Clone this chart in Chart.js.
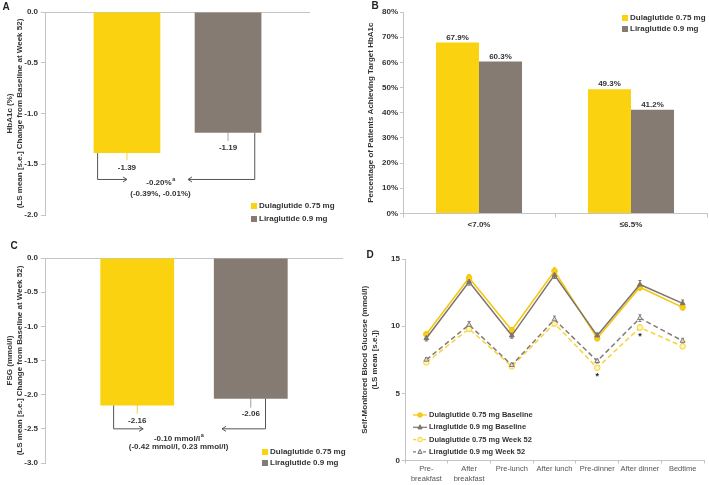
<!DOCTYPE html>
<html lang="en">
<head>
<meta charset="UTF-8">
<title>Dulaglutide 0.75 mg vs Liraglutide 0.9 mg</title>
<script src="https://cdn.jsdelivr.net/npm/chart.js"></script>
<style>
  body { margin: 0; background: #fff; }
  #wrap { position: relative; width: 709px; height: 485px; }
  #wrap canvas { position: absolute; }
</style>
</head>
<body>
<div id="wrap">
  <canvas id="chartA" width="350" height="240" style="left:0;top:0"></canvas>
  <canvas id="chartB" width="359" height="240" style="left:350px;top:0"></canvas>
  <canvas id="chartC" width="350" height="245" style="left:0;top:240px"></canvas>
  <canvas id="chartD" width="359" height="245" style="left:350px;top:240px"></canvas>
</div>
<script>
// ---- data ----
const treatments = ['Dulaglutide 0.75 mg', 'Liraglutide 0.9 mg'];

// A: HbA1c change from baseline at week 52
const hba1cChange = [-1.39, -1.19];
const hba1cSe = [0.07, 0.08];
const hba1cDiff = ['-0.20%', '(-0.39%, -0.01%)'];

// B: patients achieving target HbA1c
const targetLabels = ['<7.0%', '\u22646.5%'];
const targetDula = [67.9, 49.3];
const targetLira = [60.3, 41.2];

// C: FSG change from baseline at week 52
const fsgChange = [-2.16, -2.06];
const fsgSe = [0.12, 0.13];
const fsgDiff = ['-0.10 mmol/l', '(-0.42 mmol/l, 0.23 mmol/l)'];

// D: 8-point SMBG profile
const smbgTimes = [['Pre-', 'breakfast'], ['After', 'breakfast'], 'Pre-lunch', 'After lunch', 'Pre-dinner', 'After dinner', 'Bedtime'];
const smbgNames = ['Dulaglutide 0.75 mg Baseline', 'Liraglutide 0.9 mg Baseline', 'Dulaglutide 0.75 mg Week 52', 'Liraglutide 0.9 mg Week 52'];
const dulaBaseline = [9.4, 13.6, 9.7, 14.1, 9.1, 12.9, 11.4];
const liraBaseline = [9.1, 13.3, 9.3, 13.8, 9.3, 13.1, 11.7];
const dulaWeek52 = [7.3, 9.8, 7.0, 10.2, 6.9, 9.9, 8.5];
const liraWeek52 = [7.5, 10.1, 7.1, 10.5, 7.4, 10.6, 8.9];
const dulaBaselineSe = [0.2, 0.25, 0.2, 0.25, 0.2, 0.25, 0.2];
const liraBaselineSe = [0.2, 0.25, 0.2, 0.25, 0.2, 0.3, 0.25];
const dulaWeek52Se = [0.15, 0.2, 0.15, 0.2, 0.15, 0.2, 0.15];
const liraWeek52Se = [0.15, 0.25, 0.15, 0.25, 0.15, 0.25, 0.2];
const smbgSignificant = [false, false, false, false, true, true, false];

// ---- styling ----
const YELLOW = '#FAD20F';
const GRAY = '#867B72';
const AXIS = '#c4c4c4';
const TEXT = '#333';
const FAMILY = "'Liberation Sans', Arial, sans-serif";
const font = (size, weight) => (weight || 'bold') + ' ' + size + 'px ' + FAMILY;

Chart.defaults.font.family = FAMILY;
Chart.defaults.font.size = 8;
Chart.defaults.font.weight = 'bold';
Chart.defaults.color = TEXT;

function panelLetter(letter, x, y) {
  return {
    id: 'letter' + letter,
    afterDraw(chart) {
      const ctx = chart.ctx;
      ctx.save();
      ctx.font = font(10);
      ctx.fillStyle = '#222';
      ctx.textAlign = 'center';
      ctx.textBaseline = 'middle';
      ctx.fillText(letter, x, y);
      ctx.restore();
    }
  };
}

function squareLegend(x, y, dy) {
  return {
    id: 'squareLegend',
    afterDraw(chart) {
      const ctx = chart.ctx;
      ctx.save();
      ctx.font = font(8);
      ctx.textBaseline = 'middle';
      chart.data.datasets.forEach((ds, i) => {
        const yy = y + i * dy;
        ctx.fillStyle = ds.backgroundColor;
        ctx.fillRect(x, yy - 3, 6, 6);
        ctx.fillStyle = TEXT;
        ctx.fillText(ds.label, x + 8, yy);
      });
      ctx.restore();
    }
  };
}

// text with a superscript "a"
function textWithSup(ctx, text, cx, cy) {
  ctx.font = font(8);
  const w1 = ctx.measureText(text).width;
  ctx.font = font(5.5);
  const w2 = ctx.measureText('a').width;
  const left = cx - (w1 + w2) / 2;
  ctx.textAlign = 'left';
  ctx.font = font(8);
  ctx.fillText(text, left, cy);
  ctx.font = font(5.5);
  ctx.fillText('a', left + w1 + 0.5, cy - 3);
}

function arrowHead(ctx, x, y, dir) {
  ctx.beginPath();
  ctx.moveTo(x - dir * 4, y - 2.5);
  ctx.lineTo(x, y);
  ctx.lineTo(x - dir * 4, y + 2.5);
  ctx.stroke();
}

function changeNotes(se, diffText, cfg) {
  return {
    id: 'changeNotes',
    beforeDatasetsDraw(chart) {
      const {ctx, scales: {y}} = chart;
      ctx.save();
      chart.data.datasets.forEach((ds, i) => {
        const b = chart.getDatasetMeta(i).data[0];
        const v = ds.data[0];
        ctx.strokeStyle = i === 0 ? '#e9cf55' : '#a9a29b';
        ctx.lineWidth = 1;
        ctx.beginPath();
        ctx.moveTo(b.x, y.getPixelForValue(v + se[i]));
        ctx.lineTo(b.x, y.getPixelForValue(v - se[i]));
        ctx.stroke();
      });
      ctx.restore();
    },
    afterDatasetsDraw(chart) {
      const {ctx, scales: {y}} = chart;
      const bars = chart.data.datasets.map((ds, i) => chart.getDatasetMeta(i).data[0]);
      ctx.save();
      ctx.fillStyle = TEXT;
      ctx.font = font(8);
      ctx.textAlign = 'center';
      ctx.textBaseline = 'middle';
      chart.data.datasets.forEach((ds, i) => {
        ctx.fillText(ds.data[0].toFixed(2), bars[i].x, bars[i].y + 15);
      });

      // brackets with arrows between the two bars
      const ay = y.getPixelForValue(cfg.arrowAt);
      const [b0, b1] = bars;
      const x0 = b0.x + cfg.leftFrom * b0.width;
      const tip0 = b0.x + cfg.leftTip * b0.width;
      const x1 = b1.x + cfg.rightFrom * b1.width;
      const tip1 = b1.x + cfg.rightTip * b1.width;
      ctx.strokeStyle = '#555';
      ctx.lineWidth = 1;
      ctx.beginPath();
      ctx.moveTo(x0, b0.y);
      ctx.lineTo(x0, ay);
      ctx.lineTo(tip0, ay);
      ctx.moveTo(x1, b1.y);
      ctx.lineTo(x1, ay);
      ctx.lineTo(tip1, ay);
      ctx.stroke();
      arrowHead(ctx, tip0, ay, 1);
      arrowHead(ctx, tip1, ay, -1);

      const cx = (tip0 + tip1) / 2 + cfg.textShift;
      ctx.textBaseline = 'middle';
      textWithSup(ctx, diffText[0], cx, y.getPixelForValue(cfg.textAt[0]));
      ctx.font = font(8);
      ctx.textAlign = 'center';
      ctx.fillText(diffText[1], cx, y.getPixelForValue(cfg.textAt[1]));
      ctx.restore();
    }
  };
}

function changeChart(id, values, se, diffText, cfg) {
  return new Chart(document.getElementById(id), {
    type: 'bar',
    data: {
      labels: [''],
      datasets: treatments.map((t, i) => ({
        label: t,
        data: [values[i]],
        backgroundColor: i === 0 ? YELLOW : GRAY,
        borderWidth: 0,
        categoryPercentage: cfg.catPct,
        barPercentage: cfg.barPct
      }))
    },
    options: {
      responsive: false,
      animation: false,
      layout: { padding: cfg.padding },
      plugins: { legend: { display: false }, tooltip: { enabled: false } },
      scales: {
        x: { display: false },
        y: {
          min: cfg.min,
          max: 0,
          ticks: { stepSize: 0.5, padding: 3, color: TEXT, callback: v => v.toFixed(1) },
          grid: {
            color: c => (c.tick && c.tick.value === 0) ? AXIS : 'rgba(0,0,0,0)',
            tickColor: AXIS,
            tickLength: 4
          },
          border: { color: AXIS },
          title: { display: true, text: cfg.title, color: TEXT, padding: { top: 5, bottom: 0 }, font: { size: 8, weight: 'bold', lineHeight: 1.25 } },
          afterFit: s => { s.width = 45; }
        }
      }
    },
    plugins: [changeNotes(se, diffText, cfg), squareLegend(cfg.legend[0], cfg.legend[1], cfg.legend[2]), panelLetter(cfg.letter[0], cfg.letter[1], cfg.letter[2])]
  });
}

// ---- A ----
changeChart('chartA', hba1cChange, hba1cSe, hba1cDiff, {
  min: -2,
  title: ['HbA1c (%)', '(LS mean [s.e.] Change from Baseline at Week 52)'],
  padding: { top: 12, right: 40, bottom: 25, left: 0 },
  catPct: 0.763, barPct: 0.66,
  arrowAt: -1.65, textAt: [-1.68, -1.79], textShift: 3,
  leftFrom: -0.44, leftTip: 0, rightFrom: 0.4, rightTip: -0.6,
  legend: [251, 206, 13],
  letter: ['A', 6, 7]
});

// ---- C ----
changeChart('chartC', fsgChange, fsgSe, fsgDiff, {
  min: -3,
  title: ['FSG (mmol/l)', '(LS mean [s.e.] Change from Baseline at Week 52)'],
  padding: { top: 18, right: 7, bottom: 22, left: 0 },
  catPct: 0.762, barPct: 0.65,
  arrowAt: -2.5, textAt: [-2.64, -2.77], textShift: -4,
  leftFrom: -0.32, leftTip: 0.08, rightFrom: 0.2, rightTip: -0.39,
  legend: [262, 212, 11],
  letter: ['C', 14, 6]
});

// ---- B ----
new Chart(document.getElementById('chartB'), {
  type: 'bar',
  data: {
    labels: targetLabels,
    datasets: [
      { label: treatments[0], data: targetDula, backgroundColor: YELLOW, borderWidth: 0, categoryPercentage: 0.566, barPercentage: 1 },
      { label: treatments[1], data: targetLira, backgroundColor: GRAY, borderWidth: 0, categoryPercentage: 0.566, barPercentage: 1 }
    ]
  },
  options: {
    responsive: false,
    animation: false,
    layout: { padding: { top: 12, right: 2, bottom: 7, left: 0 } },
    plugins: { legend: { display: false }, tooltip: { enabled: false } },
    scales: {
      x: {
        ticks: { padding: 3, color: TEXT },
        grid: { drawOnChartArea: false, color: AXIS, tickLength: 4 },
        border: { color: AXIS }
      },
      y: {
        min: 0, max: 80,
        ticks: { stepSize: 10, padding: 2, color: TEXT, callback: v => v + '%' },
        grid: { drawOnChartArea: false, color: AXIS, tickLength: 3 },
        border: { color: AXIS },
        title: { display: true, text: 'Percentage of Patients Achieving Target HbA1c', color: TEXT, padding: { top: 16, bottom: 0 }, font: { size: 8, weight: 'bold', lineHeight: 1.25 } },
        afterFit: s => { s.width = 53; }
      }
    }
  },
  plugins: [{
    id: 'barValues',
    afterDatasetsDraw(chart) {
      const ctx = chart.ctx;
      ctx.save();
      ctx.font = font(8);
      ctx.fillStyle = TEXT;
      ctx.textAlign = 'center';
      ctx.textBaseline = 'bottom';
      chart.data.datasets.forEach((ds, i) => {
        chart.getDatasetMeta(i).data.forEach((b, j) => {
          ctx.fillText(ds.data[j].toFixed(1) + '%', b.x, b.y - 1);
        });
      });
      ctx.restore();
    }
  }, squareLegend(272, 18, 11), panelLetter('B', 25, 6)]
});

// ---- D ----
function drawMarker(ctx, style, x, y, r, fill, stroke) {
  ctx.beginPath();
  if (style === 'triangle') {
    const h = r * 1.5;
    ctx.moveTo(x, y - r * 1.1);
    ctx.lineTo(x + h * 0.6, y + r * 0.7);
    ctx.lineTo(x - h * 0.6, y + r * 0.7);
    ctx.closePath();
  } else {
    ctx.arc(x, y, r, 0, Math.PI * 2);
  }
  ctx.fillStyle = fill;
  ctx.fill();
  ctx.strokeStyle = stroke;
  ctx.lineWidth = 1;
  ctx.stroke();
}

const smbgSe = [dulaBaselineSe, liraBaselineSe, dulaWeek52Se, liraWeek52Se];
const smbgSeries = [
  { data: dulaBaseline, line: '#F4C60A', fill: '#F7CC1A', style: 'circle', dash: [] },
  { data: liraBaseline, line: '#7D746C', fill: '#7D746C', style: 'triangle', dash: [] },
  { data: dulaWeek52, line: '#F7D43C', fill: '#FFF4B8', style: 'circle', dash: [5, 3] },
  { data: liraWeek52, line: '#847B73', fill: '#E4E0DC', style: 'triangle', dash: [5, 3] }
];

new Chart(document.getElementById('chartD'), {
  type: 'line',
  data: {
    labels: smbgTimes,
    datasets: smbgSeries.map((s, i) => ({
      label: smbgNames[i],
      data: s.data,
      borderColor: s.line,
      backgroundColor: s.fill,
      pointBackgroundColor: s.fill,
      pointBorderColor: s.line,
      pointStyle: s.style,
      pointRadius: 2.8,
      pointBorderWidth: 1,
      borderWidth: 1.5,
      borderDash: s.dash,
      tension: 0,
      fill: false
    })).reverse()
  },
  options: {
    responsive: false,
    animation: false,
    layout: { padding: { top: 19, right: 1, bottom: 0, left: 0 } },
    plugins: { legend: { display: false }, tooltip: { enabled: false } },
    scales: {
      x: {
        offset: true,
        ticks: { padding: 1, color: '#555', font: { size: 7.5, weight: 'normal', lineHeight: 1.3 }, maxRotation: 0, autoSkip: false },
        grid: { drawOnChartArea: false, color: AXIS, tickLength: 3, offset: true },
        border: { color: AXIS }
      },
      y: {
        min: 0, max: 15,
        ticks: { stepSize: 5, padding: 2, color: TEXT },
        grid: { drawOnChartArea: false, color: AXIS, tickLength: 3 },
        border: { color: AXIS },
        title: { display: true, text: ['Self-Monitored Blood Glucose (mmol/l)', '(LS mean [s.e.])'], color: TEXT, padding: { top: 10, bottom: 0 }, font: { size: 8, weight: 'bold', lineHeight: 1.25 } },
        afterFit: s => { s.width = 55; }
      }
    }
  },
  plugins: [{
    id: 'smbgExtras',
    beforeDatasetsDraw(chart) {
      const {ctx, scales: {x, y}} = chart;
      ctx.save();
      ctx.lineWidth = 1;
      smbgSeries.forEach((s, i) => {
        ctx.strokeStyle = s.line;
        s.data.forEach((v, j) => {
          const px = x.getPixelForValue(j);
          const top = y.getPixelForValue(v + smbgSe[i][j]);
          const bot = y.getPixelForValue(v - smbgSe[i][j]);
          ctx.beginPath();
          ctx.moveTo(px, top); ctx.lineTo(px, bot);
          ctx.moveTo(px - 1.5, top); ctx.lineTo(px + 1.5, top);
          ctx.moveTo(px - 1.5, bot); ctx.lineTo(px + 1.5, bot);
          ctx.stroke();
        });
      });
      ctx.restore();
    },
    afterDatasetsDraw(chart) {
      const {ctx, scales: {x, y}} = chart;
      ctx.save();
      ctx.fillStyle = '#222';
      ctx.font = font(9);
      ctx.textAlign = 'center';
      ctx.textBaseline = 'middle';
      smbgSignificant.forEach((sig, j) => {
        if (sig) ctx.fillText('*', x.getPixelForValue(j), y.getPixelForValue(dulaWeek52[j]) + 9);
      });

      // legend, bottom left inside plot
      ctx.textAlign = 'left';
      ctx.font = font(7.5);
      smbgSeries.forEach((s, i) => {
        const yy = 175 + i * 12.3;
        ctx.strokeStyle = s.line;
        ctx.lineWidth = 1.2;
        ctx.setLineDash(s.dash.length ? [3, 2] : []);
        ctx.beginPath();
        ctx.moveTo(63, yy); ctx.lineTo(77, yy);
        ctx.stroke();
        ctx.setLineDash([]);
        drawMarker(ctx, s.style, 70, yy, 2.3, s.fill, s.line);
        ctx.fillStyle = TEXT;
        ctx.fillText(smbgNames[i], 79, yy);
      });
      ctx.restore();
    }
  }, panelLetter('D', 20, 15)]
});
</script>
</body>
</html>
